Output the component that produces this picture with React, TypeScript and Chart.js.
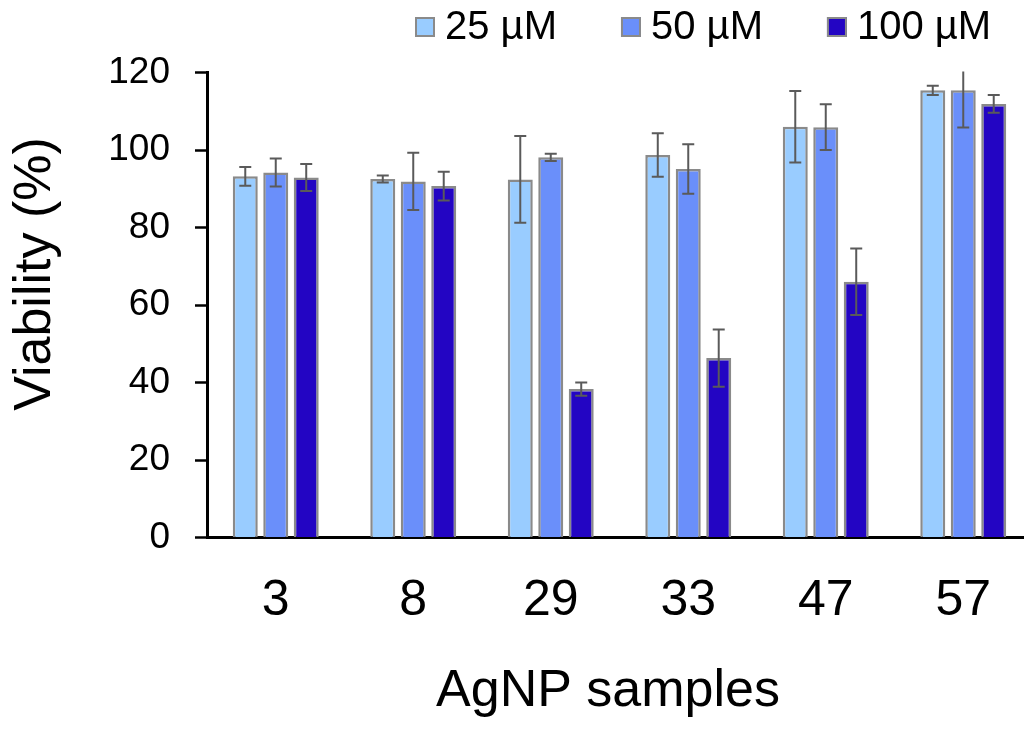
import React, { useEffect, useRef } from "react";
import { Chart, registerables } from "chart.js";

Chart.register(...registerables);

const categories = ["3", "8", "29", "33", "47", "57"];
const seriesLabels = ["25 µM", "50 µM", "100 µM"];
const values25 = [93.2, 92.5, 92.4, 98.7, 106.0, 115.4];
const values50 = [94.2, 91.9, 98.1, 95.1, 105.9, 115.4];
const values100 = [92.9, 90.7, 38.3, 46.3, 66.0, 111.9];
const errors25 = [2.4, 0.9, 11.2, 5.6, 9.2, 1.2];
const errors50 = [3.6, 7.4, 0.95, 6.4, 5.9, 9.6];
const errors100 = [3.5, 3.7, 1.7, 7.4, 8.6, 2.3];
const seriesColors = ["#99CCFF", "#6A8FFA", "#2305C3"];
const yMin = 0;
const yMax = 120;
const yStep = 20;
const xTitle = "AgNP samples";
const yTitle = "Viability (%)";

const FONT = "'Liberation Sans', Arial, Helvetica, sans-serif";

const errorBarPlugin = {
  id: "errorBars",
  afterDatasetsDraw(chart: any) {
    const { ctx, chartArea } = chart;
    const yScale = chart.scales.y;
    ctx.save();
    ctx.beginPath();
    ctx.rect(chartArea.left, chartArea.top - 1, chartArea.right - chartArea.left, chartArea.bottom - chartArea.top + 2);
    ctx.clip();
    ctx.strokeStyle = "#5a5a5a";
    ctx.lineWidth = 2;
    chart.data.datasets.forEach((ds: any, i: number) => {
      const meta = chart.getDatasetMeta(i);
      const errs: number[] = ds.errors || [];
      meta.data.forEach((el: any, j: number) => {
        const v = ds.data[j];
        const e = errs[j];
        if (e == null) return;
        const x = el.x;
        const yt = yScale.getPixelForValue(v + e);
        const yb = yScale.getPixelForValue(v - e);
        const cap = 6;
        ctx.beginPath();
        ctx.moveTo(x, yt);
        ctx.lineTo(x, yb);
        ctx.moveTo(x - cap, yt);
        ctx.lineTo(x + cap, yt);
        ctx.moveTo(x - cap, yb);
        ctx.lineTo(x + cap, yb);
        ctx.stroke();
      });
    });
    ctx.restore();
  },
};

const decorPlugin = {
  id: "decor",
  afterDraw(chart: any) {
    const { ctx } = chart;
    ctx.save();
    // Legend
    ctx.font = `40px ${FONT}`;
    ctx.textBaseline = "middle";
    ctx.textAlign = "left";
    let x = 415;
    const cy = 27;
    const box = 20;
    chart.data.datasets.forEach((ds: any) => {
      ctx.fillStyle = ds.backgroundColor;
      ctx.fillRect(x, cy - box / 2, box, box);
      ctx.strokeStyle = "#8a8a8a";
      ctx.lineWidth = 2;
      ctx.strokeRect(x + 1, cy - box / 2 + 1, box - 2, box - 2);
      x += box + 10;
      ctx.fillStyle = "#000";
      ctx.fillText(ds.label, x, cy + 1);
      x += ctx.measureText(ds.label).width + 64;
    });
    // Y title
    ctx.save();
    ctx.translate(36, 274);
    ctx.rotate(-Math.PI / 2);
    ctx.font = `52px ${FONT}`;
    ctx.textAlign = "center";
    ctx.textBaseline = "middle";
    ctx.fillStyle = "#000";
    ctx.fillText(yTitle, 0, 0);
    ctx.restore();
    // X title
    ctx.font = `52px ${FONT}`;
    ctx.textAlign = "center";
    ctx.textBaseline = "middle";
    ctx.fillStyle = "#000";
    ctx.fillText(xTitle, 608, 692);
    ctx.restore();
  },
};

export default function App() {
  const ref = useRef<HTMLCanvasElement | null>(null);

  useEffect(() => {
    document.documentElement.style.overflow = "hidden";
    document.body.style.margin = "0";
    document.body.style.overflow = "hidden";
    const canvas = ref.current;
    if (!canvas) return;
    const valueSets = [values25, values50, values100];
    const errorSets = [errors25, errors50, errors100];
    const chart = new Chart(canvas, {
      type: "bar",
      data: {
        labels: categories,
        datasets: seriesLabels.map((label, i) => ({
          label,
          data: valueSets[i],
          errors: errorSets[i],
          backgroundColor: seriesColors[i],
          borderColor: "#8a8a8a",
          borderWidth: 2.5,
          borderSkipped: "start",
          barPercentage: 0.82,
          categoryPercentage: 0.665,
        })) as any,
      },
      options: {
        animation: false,
        responsive: false,
        devicePixelRatio: 1,
        layout: { padding: { top: 72.5, right: 8, left: 0, bottom: 0 } },
        plugins: {
          legend: { display: false },
          tooltip: { enabled: false },
          title: { display: false },
        },
        scales: {
          x: {
            grid: { display: true, drawOnChartArea: false, drawTicks: false },
            border: { display: true, color: "#000", width: 3 },
            ticks: {
              color: "#000",
              font: { family: FONT, size: 50 },
              padding: 34,
            },
            afterFit: (scale: any) => {
              scale.height = 193.5;
            },
          },
          y: {
            min: yMin,
            max: yMax,
            grid: {
              display: true,
              drawOnChartArea: false,
              drawTicks: true,
              tickLength: 12,
              tickColor: "#000",
              tickWidth: 2.5,
            },
            border: { display: true, color: "#000", width: 3 },
            ticks: {
              stepSize: yStep,
              color: "#000",
              font: { family: FONT, size: 37 },
              padding: 25,
            },
            afterFit: (scale: any) => {
              scale.width = 207;
            },
          },
        },
      },
      plugins: [errorBarPlugin, decorPlugin],
    });
    return () => chart.destroy();
  }, []);

  return (
    <div style={{ width: 1024, height: 731, overflow: "hidden", background: "#fff" }}>
      <div style={{ width: 1040, height: 731, position: "relative" }}>
        <canvas ref={ref} width={1040} height={731} style={{ display: "block" }} />
      </div>
    </div>
  );
}
